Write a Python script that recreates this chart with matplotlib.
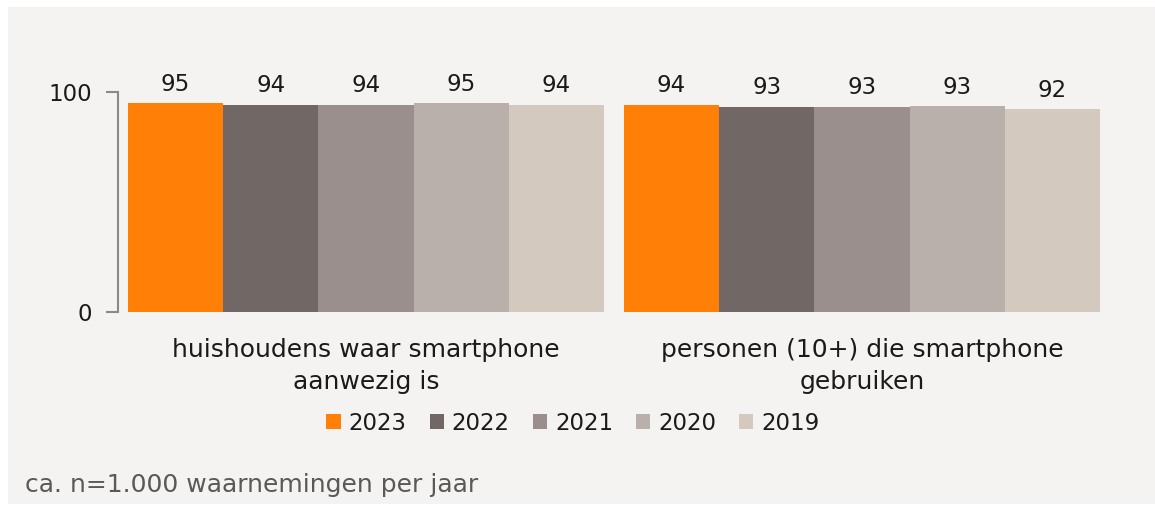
import numpy as np
import matplotlib.pyplot as plt
from matplotlib.patches import Rectangle

plt.rcParams['font.family'] = ['DejaVu Sans']

categories = ['huishoudens waar smartphone\naanwezig is',
              'personen (10+) die smartphone\ngebruiken']
years = ['2023', '2022', '2021', '2020', '2019']
values = {
    '2023': [94.9, 94.0],
    '2022': [94.0, 93.1],
    '2021': [94.0, 93.1],
    '2020': [94.9, 93.5],
    '2019': [94.0, 92.1],
}
labels = {
    '2023': [95, 94],
    '2022': [94, 93],
    '2021': [94, 93],
    '2020': [95, 93],
    '2019': [94, 92],
}
colors = ['#FF7F07', '#716866', '#9B8F8E', '#B9B0AC', '#D3C9BF']
note = 'ca. n=1.000 waarnemingen per jaar'

bg = '#F4F3F1'
txt = '#1a1a1a'
fig = plt.figure(figsize=(11.55, 5.08), dpi=100)
fig.patch.set_facecolor('white')
fig.patches.append(Rectangle((8 / 1155, 4 / 508), 1147 / 1155, 497 / 508,
                             transform=fig.transFigure, facecolor=bg,
                             edgecolor='none', zorder=-10))

ax = fig.add_axes([118 / 1155, 1 - 312 / 508, 992 / 1155, 220 / 508])
ax.set_facecolor('none')

x = np.arange(len(categories))
w = 0.192
for i, yr in enumerate(years):
    pos = x + (i - 2) * w
    ax.bar(pos, values[yr], width=w, color=colors[i], label=yr)
    for p, v, lab in zip(pos, values[yr], labels[yr]):
        ax.text(p, v + 3.5, str(lab), ha='center', va='bottom',
                fontsize=16.5, color=txt, clip_on=False)

ax.set_xlim(-0.5, 1.5)
ax.set_ylim(0, 100)
ax.set_yticks([0, 100])
ax.tick_params(axis='y', length=9, width=1.5, color='#8a8a8a',
               labelsize=16.5, labelcolor=txt, pad=10)
ax.set_xticks([])
for s in ['top', 'right', 'bottom']:
    ax.spines[s].set_visible(False)
ax.spines['left'].set_color('#8a8a8a')
ax.spines['left'].set_linewidth(1.5)

for xi, cat in zip(x, categories):
    ax.text(xi, -12, cat, ha='center', va='top', fontsize=18,
            color=txt, linespacing=1.4, clip_on=False)

fig.legend(loc='center', bbox_to_anchor=(573 / 1155, 1 - 423 / 508),
           ncol=5, frameon=False, fontsize=16.5, handlelength=0.62,
           handleheight=0.62, handletextpad=0.35, columnspacing=1.0,
           labelcolor=txt)

fig.text(25 / 1155, 1 - 485 / 508, note, ha='left', va='center',
         fontsize=18, color='#595959')

fig.savefig('out.png', dpi=100, facecolor=fig.get_facecolor())
